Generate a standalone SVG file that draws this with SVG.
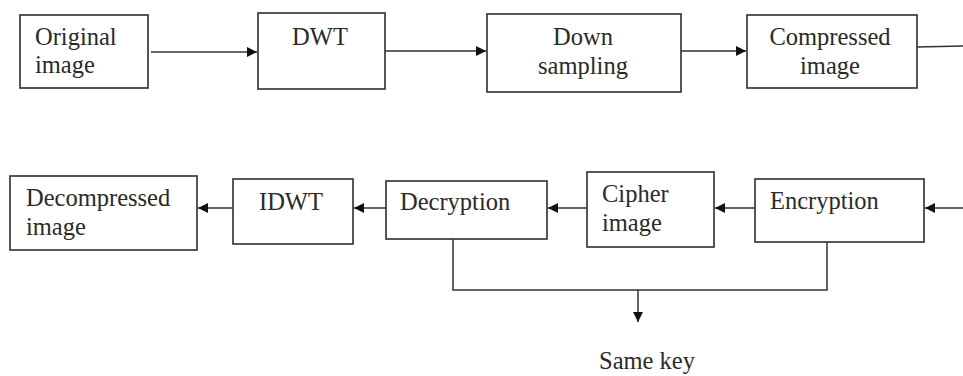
<svg xmlns="http://www.w3.org/2000/svg" width="963" height="376" viewBox="0 0 963 376">
<style>
.box{fill:#fff;stroke:#3a3a3a;stroke-width:1.7}
.t{font-family:"Liberation Serif","Times New Roman",serif;font-size:24.5px;fill:#2a2a2a}
.c{text-anchor:middle}
.ln{fill:none;stroke:#333;stroke-width:1.5}
</style>
<defs>
<marker id="ah" viewBox="0 0 10 10" refX="10" refY="5" markerWidth="10" markerHeight="10" markerUnits="userSpaceOnUse" orient="auto">
<path d="M0,0 L10,5 L0,10 z" fill="#111"/>
</marker>
</defs>
<rect width="963" height="376" fill="#fff"/>
<g id="connectors">
<line class="ln" x1="151" y1="52" x2="257" y2="52" marker-end="url(#ah)"/>
<line class="ln" x1="385" y1="51" x2="486" y2="51" marker-end="url(#ah)"/>
<line class="ln" x1="681" y1="51" x2="746" y2="51" marker-end="url(#ah)"/>
<line class="ln" x1="917" y1="47" x2="963" y2="46"/>
<line class="ln" x1="963" y1="208" x2="925" y2="208" marker-end="url(#ah)"/>
<line class="ln" x1="755" y1="208" x2="715" y2="208" marker-end="url(#ah)"/>
<line class="ln" x1="587" y1="208" x2="548" y2="208" marker-end="url(#ah)"/>
<line class="ln" x1="386" y1="208" x2="354" y2="208" marker-end="url(#ah)"/>
<line class="ln" x1="233" y1="208" x2="198" y2="208" marker-end="url(#ah)"/>
<polyline class="ln" points="453,239 453,290 827,290 827,242"/>
<line class="ln" x1="638" y1="290" x2="638" y2="322" marker-end="url(#ah)"/>
</g>
<g id="original">
<rect class="box" x="20" y="15" width="128" height="73"/>
<text class="t" x="35" y="45">Original</text>
<text class="t" x="35" y="73">image</text>
</g>
<g id="dwt">
<rect class="box" x="258" y="13" width="127" height="76"/>
<text class="t c" x="320" y="45">DWT</text>
</g>
<g id="downsampling">
<rect class="box" x="487" y="14" width="194" height="78"/>
<text class="t c" x="583" y="45">Down</text>
<text class="t c" x="583" y="74">sampling</text>
</g>
<g id="compressed">
<rect class="box" x="747" y="15" width="170" height="73"/>
<text class="t c" x="830" y="45">Compressed</text>
<text class="t c" x="830" y="74">image</text>
</g>
<g id="encryption">
<rect class="box" x="755" y="179" width="169" height="63"/>
<text class="t" x="770" y="209">Encryption</text>
</g>
<g id="cipher">
<rect class="box" x="587" y="172" width="127" height="75"/>
<text class="t" x="602" y="202">Cipher</text>
<text class="t" x="602" y="231">image</text>
</g>
<g id="decryption">
<rect class="box" x="386" y="181" width="161" height="58"/>
<text class="t" x="400" y="210">Decryption</text>
</g>
<g id="idwt">
<rect class="box" x="233" y="179" width="120" height="65"/>
<text class="t c" x="291" y="210">IDWT</text>
</g>
<g id="decompressed">
<rect class="box" x="10" y="176" width="187" height="74"/>
<text class="t" x="26" y="206">Decompressed</text>
<text class="t" x="26" y="235">image</text>
</g>
<g id="samekey">
<text class="t c" x="647" y="369">Same key</text>
</g>
</svg>
